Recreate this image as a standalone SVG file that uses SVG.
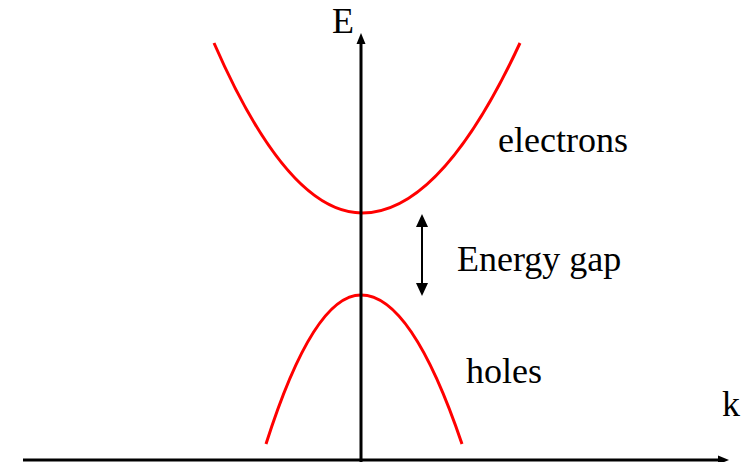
<svg xmlns="http://www.w3.org/2000/svg" width="748" height="462" viewBox="0 0 748 462">
<style>
.t{font-family:"Liberation Serif","Times New Roman","DejaVu Serif",serif;font-size:36px;fill:#000}
.band{fill:none;stroke:#ff0000;stroke-width:3}
.ax{stroke:#000;stroke-width:3;fill:none}
</style>
<rect width="748" height="462" fill="#fff"/>
<g id="bands">
<g id="electrons-band"><path class="band" d="M214,43 Q288,213 362,213 Q441,213 520,43"/></g>
<g id="holes-band"><path class="band" d="M266,444 Q313.5,295 361,295 Q411.5,295 462,444"/></g>
</g>
<g id="connectors">
<line class="ax" x1="23" y1="460" x2="720" y2="460"/>
<polygon points="729,460 718,455.5 718,464.5" fill="#000"/>
<line class="ax" x1="361" y1="462" x2="361" y2="42"/>
<polygon points="361,33 356.5,44 365.5,44" fill="#000"/>
<line x1="422" y1="224" x2="422" y2="285" stroke="#000" stroke-width="2"/>
<polygon points="422,214 416,227 428,227" fill="#000"/>
<polygon points="422,296 416,283 428,283" fill="#000"/>
</g>
<g id="labels">
<text class="t" x="332" y="33">E</text>
<text class="t" x="722" y="416">k</text>
<text class="t" x="498" y="152">electrons</text>
<text class="t" x="457" y="271">Energy gap</text>
<text class="t" x="466" y="383">holes</text>
</g>
</svg>
